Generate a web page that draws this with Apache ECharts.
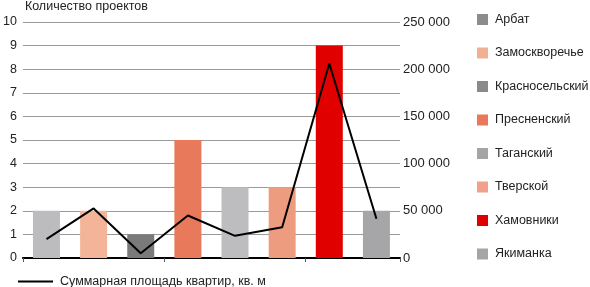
<!DOCTYPE html>
<html><head><meta charset="utf-8">
<script src="https://cdn.jsdelivr.net/npm/echarts@6/dist/echarts.min.js"></script>
<style>html,body{margin:0;padding:0;background:#fff}#c{width:590px;height:287px}</style>
</head><body><div id="c"></div>
<script>
const categories = ['Арбат','Замоскворечье','Красносельский','Пресненский','Таганский','Тверской','Хамовники','Якиманка'];
const projects = [2, 2, 1, 5, 3, 3, 9, 2];
const area = [20000, 52500, 5000, 45000, 23500, 32500, 206000, 41500];
const barColors = ['#bcbcbf','#f4b49a','#7a7a7a','#e8795a','#bdbdc0','#ee9c80','#e00000','#a6a6a8'];
const legendColors = ['#8c8c8c','#f2b093','#8a8a8a','#e8795a','#a5a5a5','#f2a088','#e00000','#a5a5a5'];
const lineName = 'Суммарная площадь квартир, кв. м';
const leftAxisName = 'Количество проектов';

const font = 'Liberation Sans, Arial, sans-serif';
const chart = echarts.init(document.getElementById('c'));
const barSeries = categories.map((c, i) => ({
  name: c, type: 'bar', stack: 'b', barWidth: 27,
  itemStyle: {color: barColors[i]},
  data: categories.map((_, j) => j === i ? projects[i] : null),
  animation: false
}));
chart.setOption({
  animation: false,
  textStyle: {fontFamily: font},
  grid: {left: 20, right: 190, top: 19, bottom: 29},
  legend: [{
    orient: 'vertical', left: 477, top: 13, padding: 0, itemWidth: 11, itemHeight: 11, itemGap: 20.5,
    textStyle: {fontSize: 12.5, color: '#222', fontFamily: font, padding: [0,0,0,2]},
    data: categories.map((c, i) => ({name: c, icon: 'rect', itemStyle: {color: legendColors[i]}}))
  }, {
    left: 18, top: 275, padding: 0, itemWidth: 35, itemHeight: 2, itemGap: 7,
    textStyle: {fontSize: 12.5, color: '#222', fontFamily: font, padding: [0,0,0,2]},
    data: [{name: lineName, icon: 'rect', itemStyle: {color: '#000'}}]
  }],
  xAxis: {
    type: 'category', data: categories,
    axisLine: {lineStyle: {color: '#000', width: 2}},
    axisTick: {show: true, length: 4, lineStyle: {color: '#555'}},
    axisLabel: {show: false}
  },
  yAxis: [{
    type: 'value', min: 0, max: 10, interval: 1,
    name: leftAxisName, nameLocation: 'end', nameGap: 9,
    nameTextStyle: {fontSize: 12.5, color: '#222', align: 'left', padding: [0,0,0,2]},
    axisLine: {show: false}, axisTick: {show: false},
    axisLabel: {fontSize: 12.5, color: '#222', margin: 6},
    splitLine: {lineStyle: {color: '#9a9a9a', width: 1}}
  }, {
    type: 'value', min: 0, max: 250000, interval: 25000,
    axisLine: {show: false}, axisTick: {show: false},
    axisLabel: {fontSize: 13, color: '#222', margin: 3,
      formatter: v => v % 50000 === 0 ? String(v).replace(/\B(?=(\d{3})+(?!\d))/g, ' ') : ''},
    splitLine: {show: false}
  }],
  series: barSeries.concat([{
    name: lineName, type: 'line', yAxisIndex: 1, symbol: 'none',
    lineStyle: {color: '#000', width: 2}, itemStyle: {color: '#000'},
    data: area, z: 5
  }])
});
</script></body></html>
